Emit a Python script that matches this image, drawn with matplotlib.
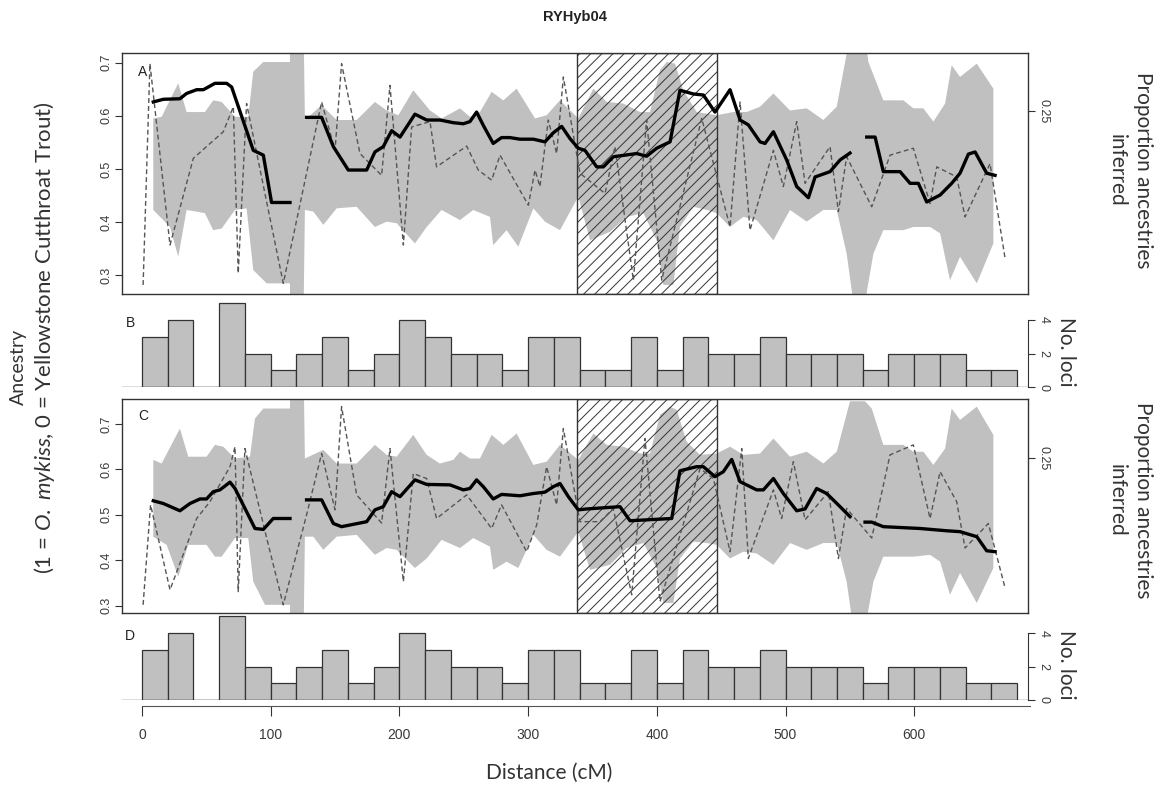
import numpy as np
import matplotlib
matplotlib.use('Agg')
import matplotlib.pyplot as plt

nan = np.nan

# ---------------- data ----------------
# Panel A: confidence envelope, mean ancestry line, proportion (dashed)
A_up_x = [8.8, 15.3, 28.2, 34.7, 48.9, 55.4, 61.9, 72.3, 82.6, 86.5, 94.3, 115.0, 115.2, 125.4, 126.6, 139.6, 151.3, 166.8, 181.0, 190.1,
          199.2, 210.8, 223.8, 232.8, 241.9, 247.1, 254.8, 262.6, 271.7, 280.8, 291.1, 305.4, 314.4, 324.8, 339.0, 350.7, 361.1, 374.0, 387.0, 394.7,
          402.5, 407.7, 414.2, 420.6, 431.0, 446.5, 459.5, 469.8, 480.2, 490.6, 503.5, 516.5, 529.4, 539.8, 550.1, 561.8, 564.4, 576.0, 591.6, 599.3,
          607.1, 614.9, 624.0, 629.1, 635.6, 648.6, 661.5]
A_up_y = [0.595, 0.598, 0.661, 0.607, 0.607, 0.629, 0.626, 0.598, 0.598, 0.683, 0.701, 0.701, 0.80, 0.80, 0.592, 0.620, 0.592, 0.592, 0.626, 0.610,
          0.601, 0.648, 0.610, 0.595, 0.607, 0.614, 0.598, 0.607, 0.645, 0.629, 0.651, 0.595, 0.601, 0.629, 0.595, 0.651, 0.626, 0.623, 0.607, 0.607,
          0.686, 0.701, 0.698, 0.648, 0.607, 0.601, 0.607, 0.607, 0.617, 0.642, 0.610, 0.614, 0.592, 0.617, 0.75, 0.75, 0.701, 0.629, 0.629, 0.614,
          0.614, 0.589, 0.623, 0.695, 0.673, 0.698, 0.651]
A_lo_x = [8.8, 21.8, 28.2, 34.7, 48.9, 55.4, 61.9, 72.3, 81.3, 86.5, 96.9, 115.0, 115.2, 125.4, 126.6, 133.1, 140.9, 151.3, 166.8, 181.0,
          190.1, 197.9, 212.1, 221.2, 232.8, 247.1, 257.4, 270.4, 272.9, 283.3, 292.4, 304.1, 313.1, 324.8, 339.0, 348.1, 363.7, 376.6, 389.6, 399.9,
          405.1, 412.9, 418.0, 428.4, 438.8, 446.5, 456.9, 467.3, 477.6, 490.6, 503.5, 516.5, 529.4, 539.8, 547.5, 552.7, 561.8, 568.3, 576.0, 591.6,
          599.3, 612.3, 620.1, 627.8, 635.6, 648.6, 661.5]
A_lo_y = [0.423, 0.391, 0.335, 0.423, 0.417, 0.385, 0.388, 0.423, 0.426, 0.310, 0.285, 0.285, 0.20, 0.20, 0.423, 0.420, 0.395, 0.426, 0.429, 0.391,
          0.401, 0.398, 0.360, 0.391, 0.423, 0.404, 0.423, 0.410, 0.357, 0.385, 0.354, 0.426, 0.401, 0.385, 0.448, 0.366, 0.382, 0.410, 0.417, 0.366,
          0.282, 0.282, 0.391, 0.429, 0.423, 0.417, 0.391, 0.410, 0.404, 0.366, 0.423, 0.401, 0.423, 0.423, 0.341, 0.25, 0.25, 0.341, 0.385, 0.385,
          0.391, 0.391, 0.379, 0.291, 0.335, 0.285, 0.360]
A_line_x = [8.8, 16.6, 29.5, 34.7, 42.5, 47.7, 51.5, 56.7, 65.8, 69.7, 86.5, 94.3, 100.7, 115.0, nan,
            127.9, 139.6, 148.7, 160.3, 174.6, 181.0, 187.5, 194.0, 200.5, 212.1, 221.2, 231.5, 241.9, 249.7, 254.8, 260.0, 265.2, 272.9, 279.4, 285.9,
            293.7, 304.1, 313.1, 319.6, 326.1, 332.6, 339.0, 344.2, 353.3, 358.5, 366.2, 384.4, 392.1, 399.9, 410.3, 418.0, 428.4, 436.2, 445.2, 456.9,
            464.7, 471.1, 480.2, 484.1, 490.6, 500.9, 508.7, 517.8, 523.0, 534.6, 542.4, 550.1, nan,
            563.1, 569.6, 576.0, 589.0, 596.8, 603.2, 609.7, 620.1, 629.1, 635.6, 642.1, 647.3, 656.3, 662.8]
A_line_y = [0.626, 0.631, 0.632, 0.642, 0.649, 0.649, 0.654, 0.661, 0.661, 0.654, 0.535, 0.526, 0.437, 0.437, nan,
            0.597, 0.597, 0.542, 0.498, 0.498, 0.532, 0.542, 0.572, 0.560, 0.603, 0.592, 0.592, 0.587, 0.585, 0.589, 0.607, 0.582, 0.548, 0.559, 0.559,
            0.556, 0.556, 0.551, 0.568, 0.580, 0.557, 0.539, 0.535, 0.504, 0.504, 0.523, 0.529, 0.524, 0.539, 0.551, 0.648, 0.641, 0.639, 0.607, 0.649,
            0.592, 0.583, 0.551, 0.548, 0.570, 0.517, 0.467, 0.446, 0.485, 0.495, 0.517, 0.530, nan,
            0.560, 0.560, 0.495, 0.495, 0.473, 0.473, 0.438, 0.451, 0.473, 0.492, 0.528, 0.532, 0.492, 0.488]
A_dash_x = [0.9, 6.2, 21.8, 39.9, 63.2, 71.0, 74.8, 81.3, 109.8, 139.6, 150.0, 155.1, 169.4, 186.2, 192.7, 203.1, 209.5, 223.8, 228.9, 252.3,
            261.3, 271.7, 278.2, 300.2, 305.4, 309.2, 315.7, 322.2, 327.4, 340.3, 359.8, 367.5, 381.8, 392.1, 403.8, 434.9, 456.9, 464.7, 472.4, 490.6,
            498.3, 508.7, 515.2, 534.6, 541.1, 547.5, 567.0, 581.2, 599.3, 612.3, 617.5, 633.0, 639.5, 658.9, 670.6]
A_dash_y = [0.282, 0.698, 0.357, 0.520, 0.570, 0.617, 0.304, 0.623, 0.285, 0.626, 0.535, 0.698, 0.529, 0.488, 0.657, 0.357, 0.579, 0.589, 0.504, 0.543,
            0.498, 0.479, 0.526, 0.432, 0.498, 0.467, 0.592, 0.529, 0.673, 0.492, 0.454, 0.542, 0.291, 0.592, 0.291, 0.595, 0.391, 0.626, 0.385, 0.535,
            0.467, 0.589, 0.473, 0.542, 0.420, 0.523, 0.429, 0.526, 0.539, 0.435, 0.504, 0.485, 0.410, 0.510, 0.332]

# Panel C
C_up_x = [8.8, 15.3, 29.5, 36.0, 50.2, 56.7, 63.2, 72.3, 83.9, 87.8, 94.3, 115.0, 115.2, 125.4, 126.6, 140.9, 151.3, 166.8, 181.0, 190.1,
          197.9, 210.8, 221.2, 231.5, 241.9, 247.1, 254.8, 262.6, 271.7, 280.8, 291.1, 304.1, 314.4, 324.8, 339.0, 350.7, 361.1, 374.0, 387.0, 394.7,
          402.5, 410.3, 415.5, 423.2, 433.6, 446.5, 456.9, 467.3, 480.2, 490.6, 503.5, 516.5, 529.4, 539.8, 550.1, 561.8, 567.0, 576.0, 591.6, 599.3,
          607.1, 614.9, 624.0, 629.1, 635.6, 648.6, 661.5]
C_up_y = [0.621, 0.613, 0.690, 0.628, 0.628, 0.654, 0.650, 0.624, 0.628, 0.712, 0.734, 0.734, 0.85, 0.85, 0.624, 0.643, 0.613, 0.613, 0.654, 0.632,
          0.628, 0.676, 0.632, 0.613, 0.621, 0.639, 0.624, 0.624, 0.676, 0.654, 0.679, 0.610, 0.617, 0.654, 0.621, 0.679, 0.654, 0.650, 0.635, 0.635,
          0.720, 0.738, 0.731, 0.661, 0.632, 0.635, 0.650, 0.632, 0.635, 0.668, 0.628, 0.639, 0.613, 0.639, 0.75, 0.75, 0.734, 0.654, 0.654, 0.639,
          0.639, 0.610, 0.646, 0.734, 0.709, 0.738, 0.676]
C_lo_x = [8.8, 19.2, 28.2, 36.0, 50.2, 56.7, 61.9, 72.3, 82.6, 86.5, 95.6, 115.0, 115.2, 125.4, 126.6, 133.1, 140.9, 151.3, 166.8, 181.0,
          190.1, 197.9, 212.1, 221.2, 232.8, 247.1, 257.4, 270.4, 272.9, 283.3, 292.4, 304.1, 314.4, 324.8, 339.0, 348.1, 363.7, 376.6, 389.6, 399.9,
          405.1, 412.9, 418.0, 428.4, 438.8, 446.5, 456.9, 467.3, 477.6, 490.6, 503.5, 516.5, 529.4, 539.8, 547.5, 552.7, 561.8, 568.3, 576.0, 591.6,
          599.3, 612.3, 620.1, 627.8, 635.6, 648.6, 661.5]
C_lo_y = [0.452, 0.434, 0.364, 0.434, 0.434, 0.408, 0.408, 0.449, 0.449, 0.353, 0.302, 0.302, 0.20, 0.20, 0.452, 0.452, 0.423, 0.452, 0.456, 0.412,
          0.427, 0.423, 0.383, 0.404, 0.445, 0.427, 0.449, 0.430, 0.379, 0.397, 0.383, 0.456, 0.423, 0.408, 0.463, 0.379, 0.390, 0.427, 0.438, 0.383,
          0.306, 0.306, 0.404, 0.441, 0.438, 0.434, 0.404, 0.419, 0.415, 0.390, 0.438, 0.423, 0.438, 0.438, 0.353, 0.25, 0.25, 0.353, 0.408, 0.408,
          0.408, 0.412, 0.397, 0.324, 0.372, 0.306, 0.383]
C_line_x = [8.8, 16.6, 29.5, 37.3, 45.1, 50.2, 55.4, 60.6, 68.4, 72.3, 87.8, 94.3, 102.0, 115.0, nan,
            127.9, 139.6, 148.7, 155.1, 174.6, 181.0, 187.5, 194.0, 200.5, 212.1, 221.2, 239.3, 249.7, 254.8, 260.0, 265.2, 272.9, 279.4, 293.7, 304.1,
            313.1, 319.6, 324.8, 331.3, 339.0, 345.5, 371.4, 379.2, 411.6, 418.0, 431.0, 436.2, 445.2, 451.7, 458.2, 464.7, 477.6, 482.8, 490.6, 498.3,
            508.7, 515.2, 524.2, 532.0, 542.4, 550.1, nan,
            561.8, 567.0, 576.0, 604.5, 625.2, 635.6, 648.6, 656.3, 662.8]
C_line_y = [0.531, 0.525, 0.509, 0.525, 0.535, 0.535, 0.551, 0.555, 0.572, 0.558, 0.470, 0.468, 0.492, 0.492, nan,
            0.533, 0.533, 0.481, 0.474, 0.485, 0.511, 0.518, 0.551, 0.540, 0.577, 0.567, 0.566, 0.555, 0.558, 0.577, 0.562, 0.535, 0.545, 0.542, 0.547,
            0.550, 0.562, 0.569, 0.540, 0.511, 0.513, 0.518, 0.487, 0.492, 0.597, 0.606, 0.606, 0.584, 0.595, 0.622, 0.573, 0.555, 0.555, 0.580, 0.547,
            0.509, 0.513, 0.558, 0.547, 0.518, 0.496, nan,
            0.484, 0.484, 0.474, 0.470, 0.465, 0.463, 0.452, 0.421, 0.419]
C_dash_x = [0.9, 6.7, 21.8, 42.5, 52.8, 68.4, 72.3, 74.8, 80.0, 96.9, 109.8, 127.9, 139.6, 150.0, 155.1, 166.8, 186.2, 192.7, 203.1, 210.8,
            221.2, 228.9, 252.3, 271.7, 279.4, 298.9, 306.7, 314.4, 322.2, 327.4, 340.3, 355.9, 366.2, 380.5, 390.8, 402.5, 433.6, 444.0, 456.9, 466.0,
            471.1, 490.6, 497.0, 506.1, 515.2, 533.3, 541.1, 547.5, 567.0, 581.2, 599.3, 612.3, 620.1, 633.0, 639.5, 657.6, 670.6]
C_dash_y = [0.302, 0.522, 0.335, 0.492, 0.529, 0.606, 0.650, 0.331, 0.646, 0.449, 0.302, 0.500, 0.635, 0.511, 0.738, 0.544, 0.482, 0.646, 0.353, 0.591,
            0.580, 0.492, 0.544, 0.470, 0.522, 0.419, 0.478, 0.606, 0.522, 0.690, 0.485, 0.485, 0.514, 0.324, 0.668, 0.309, 0.602, 0.580, 0.419, 0.646,
            0.404, 0.555, 0.492, 0.617, 0.489, 0.551, 0.404, 0.514, 0.449, 0.632, 0.654, 0.492, 0.595, 0.529, 0.427, 0.481, 0.339]

# Panels B / D: number of loci per 20 cM bin
bin_left = list(range(0, 680, 20))
loci_counts = [3, 4, 0, 5, 2, 1, 2, 3, 1, 2, 4, 3, 2, 2, 1, 3, 3, 1, 1, 3,
               1, 3, 2, 2, 3, 2, 2, 2, 1, 2, 2, 2, 1, 1]

hatch_region = (338, 447)
anc_ticks = [0.3, 0.4, 0.5, 0.6, 0.7]
prop_tick = [0.25]
loci_ticks = [0, 2, 4]
dist_ticks = [0, 100, 200, 300, 400, 500, 600]

# ---------------- figure ----------------
W, H = 1163, 788
plt.rcParams['hatch.linewidth'] = 0.7
plt.rcParams['hatch.color'] = '#333333'
plt.rcParams['font.family'] = ['Liberation Sans', 'DejaVu Sans']
plt.rcParams['mathtext.fontset'] = 'custom'
plt.rcParams['mathtext.rm'] = 'Lato'
plt.rcParams['mathtext.it'] = 'Lato:italic'

fig = plt.figure(figsize=(W / 100, H / 100), dpi=100)

def rect(x0, x1, ytop, ybot):
    return [x0 / W, 1 - ybot / H, (x1 - x0) / W, (ybot - ytop) / H]

XL = (-15.5, 688.4)
GRAY = '#c0c0c0'
DARK = '#333333'
TXT = '#3a3a3a'
X0, X1 = 122, 1028


def anc_panel(rc, ylim, uxs, uys, lxs, lys, lx, ly, dx, dy, letter, rlim):
    ax = fig.add_axes(rc)
    ax.set_xlim(XL)
    ax.set_ylim(ylim)
    ux, uy, lxx, lyy = map(np.asarray, (uxs, uys, lxs, lys))
    ax.fill(np.r_[ux, lxx[::-1]], np.r_[uy, lyy[::-1]], color=GRAY, lw=0, zorder=1)
    ax.axvspan(hatch_region[0], hatch_region[1], facecolor='none', edgecolor=DARK,
               hatch='///', lw=1.0, zorder=2)
    ax.plot(dx, dy, color='#555555', lw=1.0, ls=(0, (3.5, 2.2)), zorder=3)
    ax.plot(lx, ly, color='black', lw=2.4, zorder=4, solid_joinstyle='round')
    for s in ax.spines.values():
        s.set_color(DARK)
        s.set_linewidth(1.0)
    ax.set_xticks([])
    ax.set_yticks(anc_ticks)
    ax.set_yticklabels([f'{t:.1f}' for t in anc_ticks], rotation=90, va='center')
    ax.tick_params(axis='y', length=5, width=0.8, color=DARK, labelsize=9,
                   labelcolor=TXT, pad=2)
    ax.text(0.018, 0.92, letter, transform=ax.transAxes, fontsize=10,
            color='#222222', ha='left', va='center')
    tw = ax.twinx()
    tw.set_ylim(rlim)
    tw.set_yticks(prop_tick)
    tw.set_yticklabels(['0.25'], rotation=-90, va='center')
    tw.tick_params(axis='y', length=5, width=0.8, color=DARK, labelsize=9,
                   labelcolor=TXT, pad=2)
    for s in tw.spines.values():
        s.set_visible(False)
    return ax


def loci_panel(y0px, letter, xaxis):
    unit = 16.75
    ytop = y0px - 5.3 * unit
    ax = fig.add_axes(rect(X0, X1, ytop, y0px))
    ax.patch.set_visible(False)
    ax.set_xlim(XL)
    ax.set_ylim(0, 5.3)
    ax.bar(bin_left, loci_counts, width=20, align='edge', color=GRAY,
           edgecolor=DARK, lw=0.9, zorder=2)
    ax.axhline(0, color='#555555', lw=1.0, zorder=3)
    for k in ('top', 'left', 'bottom'):
        ax.spines[k].set_visible(False)
    ax.spines['right'].set_bounds(0, 4)
    ax.spines['right'].set_color(DARK)
    ax.yaxis.tick_right()
    ax.set_yticks(loci_ticks)
    ax.set_yticklabels([str(t) for t in loci_ticks], rotation=-90, va='center')
    ax.tick_params(axis='y', length=5, width=0.8, color=DARK, labelsize=9,
                   labelcolor=TXT, pad=2)
    ax.text(-9, 3.85, letter, fontsize=10, color='#222222', ha='center', va='center')
    if xaxis:
        ax.spines['bottom'].set_visible(True)
        ax.spines['bottom'].set_position(('outward', 4))
        ax.spines['bottom'].set_bounds(0, 690)
        ax.spines['bottom'].set_color('#555555')
        ax.set_xticks(dist_ticks)
        ax.set_xticklabels([str(t) for t in dist_ticks])
        ax.tick_params(axis='x', length=7, width=0.8, color=DARK, labelsize=10,
                       labelcolor=TXT, pad=9)
    else:
        ax.set_xticks([])
    return ax


anc_panel(rect(X0, X1, 53, 294), (0.265, 0.718), A_up_x, A_up_y, A_lo_x, A_lo_y,
          A_line_x, A_line_y, A_dash_x, A_dash_y, 'A', (0, 0.329))
anc_panel(rect(X0, X1, 399, 613), (0.284, 0.755), C_up_x, C_up_y, C_lo_x, C_lo_y,
          C_line_x, C_line_y, C_dash_x, C_dash_y, 'C', (0, 0.345))
loci_panel(387, 'B', False)
loci_panel(700, 'D', True)

# ---------------- texts ----------------
def ftxt(x, y, s, **kw):
    fig.text(x / W, 1 - y / H, s, **kw)

ftxt(575, 17, 'RYHyb04', fontsize=10.5, fontweight='bold', ha='center', va='center', color='#222222')

lab = dict(family=['Lato', 'DejaVu Sans'], fontsize=15, color='#333333')
ftxt(18, 367, 'Ancestry', rotation=90, ha='center', va='center',
     family=['Lato', 'DejaVu Sans'], fontsize=14, color='#333333')
ftxt(45, 338, r'(1 = $\mathit{O.\ mykiss}$, 0 = Yellowstone Cutthroat Trout)',
     rotation=90, ha='center', va='center',
     family=['Lato', 'DejaVu Sans'], fontsize=16, color='#333333')
for yc in (170, 500):
    ftxt(1143, yc, 'Proportion ancestries', rotation=-90, ha='center', va='center', **lab)
    ftxt(1117, yc, 'inferred', rotation=-90, ha='center', va='center', **lab)
for yc in (352, 665):
    ftxt(1066, yc, 'No. loci', rotation=-90, ha='center', va='center', **lab)
ftxt(549, 773, 'Distance (cM)', ha='center', va='center', **lab)

fig.savefig('out.png', dpi=100)
